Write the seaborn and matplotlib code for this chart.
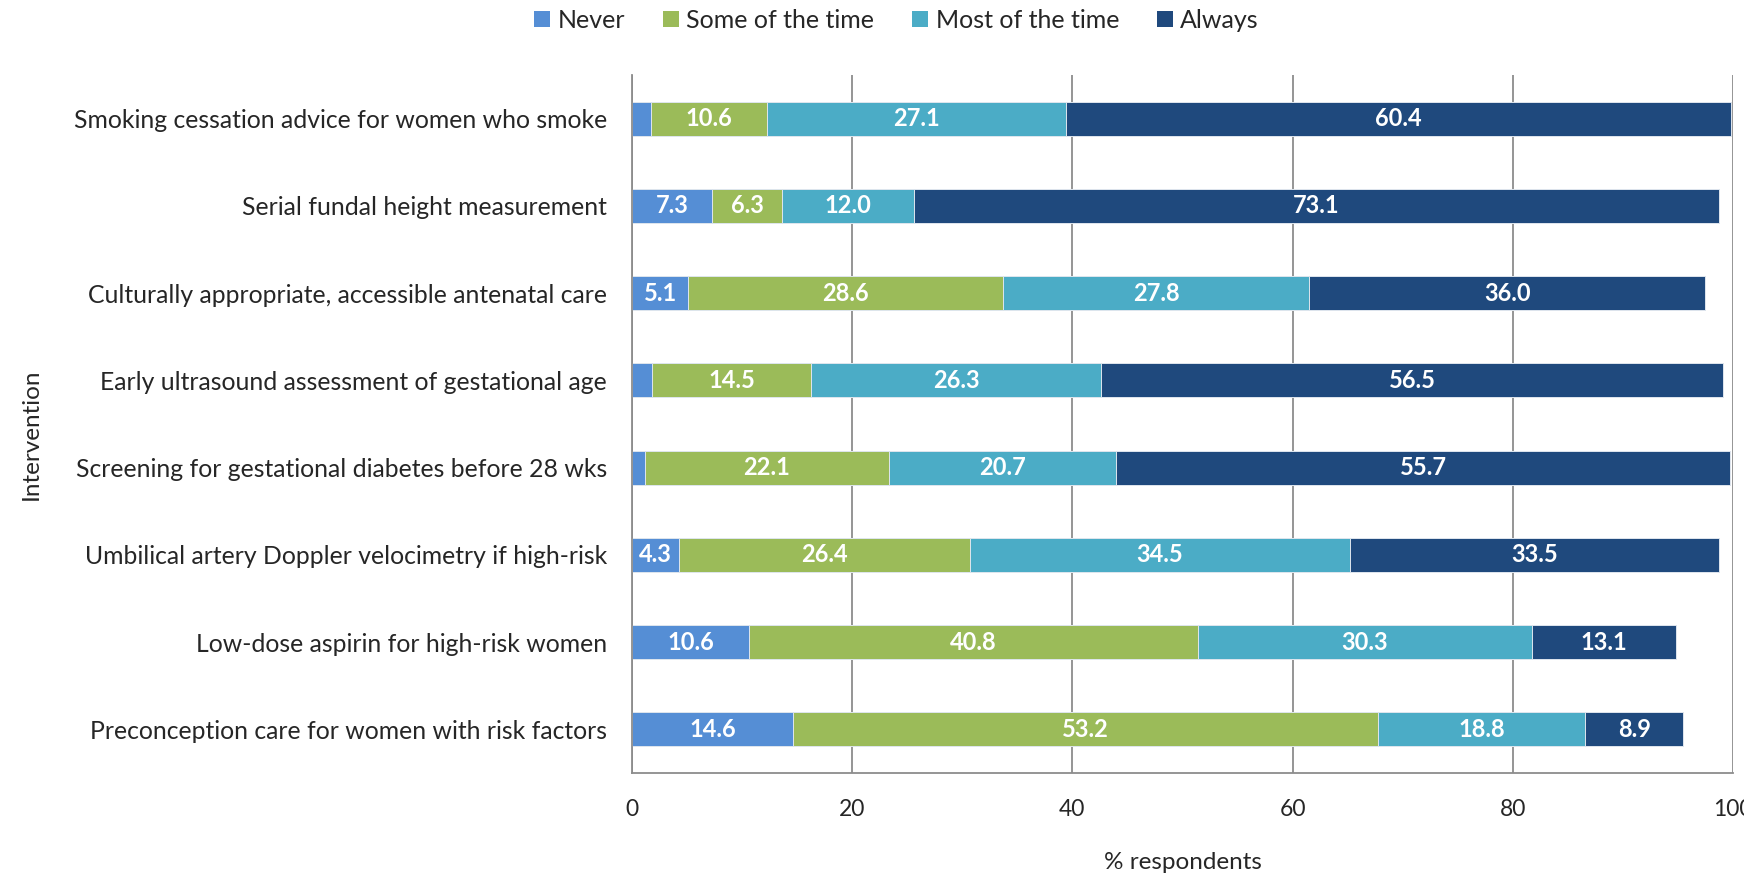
import matplotlib
matplotlib.use("Agg")
import matplotlib.pyplot as plt
import numpy as np
import pandas as pd
import seaborn as sns
from matplotlib.patches import Patch

interventions = [
    "Smoking cessation advice for women who smoke",
    "Serial fundal height measurement",
    "Culturally appropriate, accessible antenatal care",
    "Early ultrasound assessment of gestational age",
    "Screening for gestational diabetes before 28 wks",
    "Umbilical artery Doppler velocimetry if high-risk",
    "Low-dose aspirin for high-risk women",
    "Preconception care for women with risk factors",
]
never = [1.7, 7.3, 5.1, 1.8, 1.2, 4.3, 10.6, 14.6]
some_of_the_time = [10.6, 6.3, 28.6, 14.5, 22.1, 26.4, 40.8, 53.2]
most_of_the_time = [27.1, 12.0, 27.8, 26.3, 20.7, 34.5, 30.3, 18.8]
always = [60.4, 73.1, 36.0, 56.5, 55.7, 33.5, 13.1, 8.9]

series_names = ["Never", "Some of the time", "Most of the time", "Always"]
series_values = [never, some_of_the_time, most_of_the_time, always]
series_colors = ["#558ED5", "#9BBB59", "#4BACC6", "#1F497D"]
x_ticks = [0, 20, 40, 60, 80, 100]

sns.set_style("white")
plt.rcParams["font.family"] = ["Lato", "DejaVu Sans"]

df = pd.DataFrame({"intervention": interventions})
for name, vals in zip(series_names, series_values):
    df[name] = vals
cum = df[series_names].cumsum(axis=1)
cum["intervention"] = interventions

fig = plt.figure(figsize=(17.44, 8.81), dpi=100)
ax = fig.add_axes([0.3624, 0.1226, 0.6313, 0.7923])

grid_col = "#8c8c8c"
ax.set_axisbelow(True)
ax.grid(axis="x", color=grid_col, linewidth=1.3)
ax.grid(axis="y", visible=False)

# stacked bars: draw cumulative totals from the outermost segment inward
for name, color in reversed(list(zip(series_names, series_colors))):
    sns.barplot(data=cum, x=name, y="intervention", orient="h", color=color,
                saturation=1, width=0.39, ax=ax, order=interventions,
                edgecolor="#dfe6ee", linewidth=0.7)

# value labels at segment centres
for i in range(len(interventions)):
    start = 0.0
    for name in series_names:
        v = df.loc[i, name]
        if v >= 3:
            ax.text(start + v / 2, i, f"{v:.1f}", ha="center", va="center",
                    color="white", fontsize=17, fontweight="bold")
        start += v

ax.set_xlim(0, 100)
ax.set_ylim(len(interventions) - 0.5, -0.5)
ax.set_xticks(x_ticks)
ax.set_xticklabels([str(t) for t in x_ticks], fontsize=16.5)
ax.tick_params(axis="x", direction="out", length=9, width=1.3, color=grid_col, pad=10)
ax.tick_params(axis="y", length=0, pad=18, labelsize=17.8)

for side in ["top", "right"]:
    ax.spines[side].set_visible(False)
for side in ["left", "bottom"]:
    ax.spines[side].set_color(grid_col)
    ax.spines[side].set_linewidth(1.3)

ax.set_xlabel("% respondents", fontsize=17.5, labelpad=23)
ax.set_ylabel("")
fig.text(0.018, 0.507, "Intervention", rotation=90, ha="center", va="center", fontsize=17.5)

handles = [Patch(facecolor=c, edgecolor="none") for c in series_colors]
fig.legend(handles, series_names, loc="center", bbox_to_anchor=(0.514, 0.977), ncol=4,
           frameon=False, fontsize=18, handlelength=0.65, handleheight=0.65,
           handletextpad=0.3, columnspacing=1.5)

fig.savefig("out.png", dpi=100)
